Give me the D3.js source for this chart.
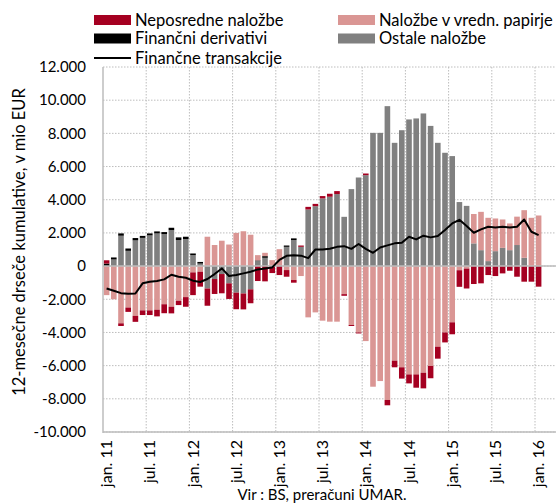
<!DOCTYPE html>
<html>
<head>
<meta charset="utf-8">
<title>Finančne transakcije</title>
<script src="https://d3js.org/d3.v7.min.js"></script>
<style>
  body { margin: 0; background: #fff; }
  text { font-family: Lato, "Noto Sans", sans-serif; fill: #000; }
</style>
</head>
<body>
<svg width="556" height="504"></svg>
<script>
// mesečne kategorije jan. 11 – jan. 16
const monthNames = ["jan.", "feb.", "mar.", "apr.", "maj", "jun.", "jul.", "avg.", "sep.", "okt.", "nov.", "dec."];
const years = ["11", "12", "13", "14", "15", "16"];
const months = [];
years.forEach(y => monthNames.forEach(m => months.push(m + " " + y)));
months.length = 61;

// vrednosti v mio EUR (odčitano s slike)
const ostale = [0, 400, 1830, 920, 1550, 1700, 1850, 1970, 1930, 2170, 1570, 1630,
  660, 150, -1350, -780, -480, -1040, -1600, -1650, -1400, 300, 500, 0,
  0, 1160, 1570, 1160, 3410, 3610, 4080, 4180, 4340, 2970, 4640, 5340,
  5480, 8030, 8030, 9640, 7430, 8190, 8840, 8900, 9200, 8450, 7430, 6830,
  6630, 3860, 3630, 1370, 960, 300, 900, 1100, 960, 1270, 500, 0, 0];
const derivativi = [150, 120, 140, 140, 140, 120, 120, 120, 120, 140, 160, 140,
  100, 100, 0, 0, 0, 0, 0, 0, 0, 40, 100, 0,
  0, 80, 100, 0, 0, 0, 0, 0, 0, 0, 0, 0,
  0, 0, 0, 0, 0, 0, 0, 0, 0, 0, 0, 0,
  0, 0, 0, 0, 0, 0, 0, 0, 0, 0, 0, 0, 0];
const vrednostni = [-1750, -2000, -3450, -2500, -3000, -2670, -2670, -2630, -2300, -2450, -2090, -1870,
  -380, -340, 1770, 1270, 1530, 1300, 2000, 2100, 1890, 320, 200, 360,
  1020, -240, -840, -600, -3090, -2790, -3290, -3350, -3350, -1690, -3550, -4000,
  -4520, -7270, -6930, -8070, -5700, -6100, -6530, -6530, -6430, -6020, -4860, -4000,
  -3390, -250, -150, 1770, 2310, 2610, 1970, 1710, 1610, 1710, 2870, 2910, 3050];
const neposredne = [200, 0, -160, -260, -360, -280, -280, -400, -540, -400, -260, -580,
  -1370, -900, -1040, -900, -1160, -940, -1000, -960, -840, -900, -920, -420,
  -540, -400, -160, 80, 160, 140, 140, 180, 180, -100, -60, -60,
  100, 0, 0, -320, -400, -680, -540, -800, -940, -740, -720, -600,
  -720, -1000, -1200, -1080, -1040, -540, -600, -440, -280, -640, -940, -940, -1240];
const transakcije = [-1350, -1490, -1630, -1670, -1650, -1040, -940, -900, -800, -520, -640, -700,
  -880, -960, -780, -480, -140, -600, -540, -440, -340, -200, -140, -80,
  370, 620, 660, 630, 480, 1000, 1000, 1040, 1160, 1200, 1040, 1330,
  1040, 800, 1120, 1250, 1370, 1410, 1770, 1610, 1830, 1730, 1810, 2170,
  2570, 2790, 2410, 2010, 2210, 2370, 2330, 2370, 2330, 2370, 2810, 2070, 1870];
const yTicks = [12000, 10000, 8000, 6000, 4000, 2000, 0, -2000, -4000, -6000, -8000, -10000];
const xTickLabels = ["jan. 11", "jul. 11", "jan. 12", "jul. 12", "jan. 13", "jul. 13",
  "jan. 14", "jul. 14", "jan. 15", "jul. 15", "jan. 16"];

const series = [
  { key: "neposredne", name: "Neposredne naložbe", color: "#a50021" },
  { key: "vrednostni", name: "Naložbe v vredn. papirje", color: "#da9694" },
  { key: "derivativi", name: "Finančni derivativi", color: "#000000" },
  { key: "ostale", name: "Ostale naložbe", color: "#808080" }
];

const rows = months.map((m, i) => ({
  month: m,
  ostale: ostale[i],
  derivativi: derivativi[i],
  vrednostni: vrednostni[i],
  neposredne: neposredne[i]
}));

const svg = d3.select("svg");
const pLeft = 103, pRight = 556, pTop = 67, pBottom = 432;

const x = d3.scaleBand().domain(months).range([pLeft, pLeft + 7.2 * months.length]).paddingInner(0.22).paddingOuter(0.11);
const y = d3.scaleLinear().domain([-10000, 12000]).range([pBottom, pTop]);
const color = d3.scaleOrdinal().domain(series.map(s => s.key)).range(series.map(s => s.color));

const loc = d3.formatLocale({ decimal: ",", thousands: ".", grouping: [3], currency: ["", " €"], minus: "-" });
const fmt = loc.format(",d");

// mreža
const bandStart = m => x(m) - (x.step() - x.bandwidth()) / 2;
svg.append("g")
  .selectAll("line")
  .data(yTicks)
  .join("line")
  .attr("x1", pLeft).attr("x2", pRight)
  .attr("y1", d => y(d)).attr("y2", d => y(d))
  .attr("stroke", "#bdbdbd")
  .attr("stroke-dasharray", "1.5,1.5");
svg.append("g")
  .selectAll("line")
  .data(xTickLabels.slice(1))
  .join("line")
  .attr("x1", d => bandStart(d)).attr("x2", d => bandStart(d))
  .attr("y1", pTop).attr("y2", pBottom)
  .attr("stroke", "#bdbdbd")
  .attr("stroke-dasharray", "1.5,1.5");

// stolpci
const stack = d3.stack()
  .keys(["ostale", "derivativi", "vrednostni", "neposredne"])
  .offset(d3.stackOffsetDiverging);
const stacked = stack(rows);

svg.append("g")
  .selectAll("g")
  .data(stacked)
  .join("g")
  .attr("fill", d => color(d.key))
  .selectAll("rect")
  .data(d => d)
  .join("rect")
  .attr("x", d => x(d.data.month))
  .attr("width", x.bandwidth())
  .attr("y", d => y(Math.max(d[0], d[1])))
  .attr("height", d => Math.abs(y(d[0]) - y(d[1])));

// osi
svg.append("line")
  .attr("x1", pLeft).attr("x2", pRight)
  .attr("y1", y(0)).attr("y2", y(0))
  .attr("stroke", "#bdbdbd").attr("stroke-width", 1.5);
svg.append("line")
  .attr("x1", pLeft).attr("x2", pRight)
  .attr("y1", pBottom).attr("y2", pBottom)
  .attr("stroke", "#bdbdbd").attr("stroke-width", 1.5);
svg.append("line")
  .attr("x1", pLeft).attr("x2", pLeft)
  .attr("y1", pTop).attr("y2", pBottom + 1)
  .attr("stroke", "#bdbdbd").attr("stroke-width", 1.5);

// črta
const line = d3.line()
  .x((d, i) => x(months[i]) + x.bandwidth() / 2)
  .y(d => y(d));
svg.append("path")
  .datum(transakcije)
  .attr("fill", "none")
  .attr("stroke", "#000")
  .attr("stroke-width", 2)
  .attr("stroke-linejoin", "round")
  .attr("d", line);

// oznake osi y
svg.append("g")
  .selectAll("text")
  .data(yTicks)
  .join("text")
  .attr("x", 86)
  .attr("y", d => y(d))
  .attr("dy", "0.35em")
  .attr("text-anchor", "end")
  .style("font-size", "15px")
  .text(d => fmt(d));

// oznake osi x
svg.append("g")
  .selectAll("text")
  .data(xTickLabels)
  .join("text")
  .attr("transform", d => `translate(${x(d) + x.bandwidth() / 2},440) rotate(-90)`)
  .attr("dy", "0.35em")
  .attr("text-anchor", "end")
  .style("font-size", "16px")
  .text(d => d);

svg.append("text")
  .attr("transform", "translate(25,242) rotate(-90)")
  .attr("text-anchor", "middle")
  .style("font-size", "16.5px")
  .text("12-mesečne drseče kumulative, v mio EUR");

svg.append("text")
  .attr("x", 322).attr("y", 500)
  .attr("text-anchor", "middle")
  .style("font-size", "15px")
  .text("Vir : BS, preračuni UMAR.");

// legenda
const legend = [
  { name: series[0].name, color: series[0].color, x: 94, y: 20, type: "rect" },
  { name: series[2].name, color: series[2].color, x: 94, y: 38.5, type: "rect" },
  { name: "Finančne transakcije", color: "#000", x: 94, y: 58, type: "line" },
  { name: series[1].name, color: series[1].color, x: 338, y: 20, type: "rect" },
  { name: series[3].name, color: series[3].color, x: 338, y: 38.5, type: "rect" }
];
const lg = svg.append("g").selectAll("g").data(legend).join("g")
  .attr("transform", d => `translate(${d.x},${d.y})`);
lg.filter(d => d.type === "rect").append("rect")
  .attr("x", 0).attr("y", -5).attr("width", 37).attr("height", 10)
  .attr("fill", d => d.color);
lg.filter(d => d.type === "line").append("line")
  .attr("x1", 0).attr("x2", 37)
  .attr("stroke", d => d.color).attr("stroke-width", 2);
lg.append("text")
  .attr("x", 41)
  .attr("dy", "0.35em")
  .style("font-size", "16.5px")
  .text(d => d.name);
</script>
</body>
</html>
